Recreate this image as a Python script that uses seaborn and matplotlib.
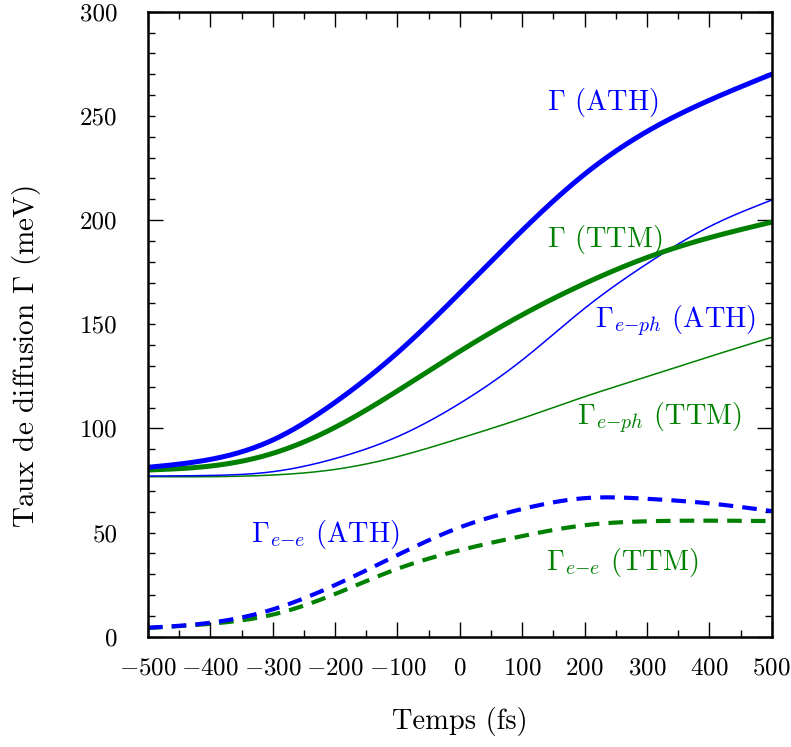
import numpy as np
import pandas as pd
import matplotlib
matplotlib.use("Agg")
import matplotlib.pyplot as plt
from matplotlib.ticker import MultipleLocator, FuncFormatter
import seaborn as sns

# ---- data ----
t = [-500, -400, -300, -200, -100, 0, 100, 200, 300, 400, 500]
gamma_ath = [81.3, 85.1, 94.4, 112.5, 136.3, 165.0, 195.0, 222.0, 242.5, 257.5, 270.0]
gamma_ttm = [80.0, 81.9, 88.0, 100.5, 118.0, 137.0, 154.5, 169.5, 182.0, 191.5, 199.0]
gamma_eph_ath = [77.1, 77.4, 79.2, 85.5, 96.0, 112.0, 132.8, 157.6, 179.0, 196.8, 209.6]
gamma_eph_ttm = [76.8, 76.8, 77.6, 80.3, 86.4, 95.2, 104.8, 115.2, 124.8, 134.4, 143.7]
gamma_ee_ath = [4.3, 6.7, 13.1, 24.8, 39.2, 52.5, 61.3, 66.5, 66.2, 64.0, 60.3]
gamma_ee_ttm = [4.2, 6.2, 10.6, 20.5, 32.6, 41.5, 48.3, 53.5, 55.4, 55.7, 55.5]

labels = [r"$\Gamma$ (ATH)", r"$\Gamma$ (TTM)",
          r"$\Gamma_{e{-}ph}$ (ATH)", r"$\Gamma_{e{-}ph}$ (TTM)",
          r"$\Gamma_{e{-}e}$ (ATH)", r"$\Gamma_{e{-}e}$ (TTM)"]

BLUE = "#0000ff"
GREEN = "#008000"

sns.set_style("ticks")
plt.rcParams["font.family"] = "serif"
plt.rcParams["font.serif"] = ["cmr10", "DejaVu Serif"]
plt.rcParams["mathtext.fontset"] = "cm"
plt.rcParams["axes.formatter.use_mathtext"] = True
plt.rcParams["text.color"] = "black"
plt.rcParams["axes.labelcolor"] = "black"

fig = plt.figure(figsize=(7.91, 7.47), dpi=100)
ax = fig.add_axes([148/791, 1-636.7/747, (771.7-148)/791, (636.7-11.7)/747])


def smooth(x, y, n=500):
    """Natural cubic spline through the read points (for a smooth line)."""
    x = np.asarray(x, float); y = np.asarray(y, float)
    k = len(x)
    h = np.diff(x)
    A = np.zeros((k, k)); r = np.zeros(k)
    A[0, 0] = A[-1, -1] = 1.0
    for i in range(1, k - 1):
        A[i, i - 1] = h[i - 1]
        A[i, i] = 2 * (h[i - 1] + h[i])
        A[i, i + 1] = h[i]
        r[i] = 6 * ((y[i + 1] - y[i]) / h[i] - (y[i] - y[i - 1]) / h[i - 1])
    M = np.linalg.solve(A, r)
    xs = np.linspace(x[0], x[-1], n)
    idx = np.clip(np.searchsorted(x, xs) - 1, 0, k - 2)
    hi = h[idx]
    a = (x[idx + 1] - xs) / hi
    b = (xs - x[idx]) / hi
    ys = (a * y[idx] + b * y[idx + 1]
          + ((a**3 - a) * M[idx] + (b**3 - b) * M[idx + 1]) * hi**2 / 6)
    return xs, ys


series = [
    (gamma_eph_ttm, GREEN, 1.1, None),
    (gamma_eph_ath, BLUE, 1.1, None),
    (gamma_ttm, GREEN, 3.6, None),
    (gamma_ath, BLUE, 3.6, None),
    (gamma_ee_ttm, GREEN, 3.0, (3.5, 2.2)),
    (gamma_ee_ath, BLUE, 3.0, (3.5, 2.2)),
]
for vals, col, lw, dash in series:
    xs, ys = smooth(t, vals)
    df = pd.DataFrame({"t": xs, "v": ys})
    sns.lineplot(data=df, x="t", y="v", ax=ax, color=col, linewidth=lw,
                 estimator=None, sort=False)
    if dash is not None:
        ax.lines[-1].set_dashes(dash)

ax.set_xlim(-500, 500)
ax.set_ylim(0, 300)

# annotations
fs = 20.5
ax.text(229, 256.6, labels[0], color=BLUE, fontsize=fs, ha="center", va="center")
ax.text(232, 190.5, labels[1], color=GREEN, fontsize=fs, ha="center", va="center")
ax.text(346, 151.5, labels[2], color=BLUE, fontsize=fs, ha="center", va="center")
ax.text(320, 105, labels[3], color=GREEN, fontsize=fs, ha="center", va="center")
ax.text(-216, 49, labels[4], color=BLUE, fontsize=fs, ha="center", va="center")
ax.text(260, 35.5, labels[5], color=GREEN, fontsize=fs, ha="center", va="center")

ax.set_xlabel("Temps (fs)", fontsize=20.5)
ax.set_ylabel(r"Taux de diffusion $\Gamma$ (meV)", fontsize=21)
ax.xaxis.set_label_coords(0.5, (636.7 - 707) / 625)
ax.yaxis.set_label_coords((43 - 148) / 623.7, (636.7 - 356.5) / 625)

ax.xaxis.set_major_locator(MultipleLocator(100))
ax.xaxis.set_minor_locator(MultipleLocator(50))
ax.yaxis.set_major_locator(MultipleLocator(100))
ax.yaxis.set_minor_locator(MultipleLocator(10))
ax.yaxis.set_major_formatter(FuncFormatter(lambda v, p: f"{int(round(v))}"))
ax.yaxis.set_minor_formatter(FuncFormatter(
    lambda v, p: f"{int(round(v))}" if int(round(v)) % 100 == 50 else ""))

ax.tick_params(which="both", direction="in", top=True, right=True, width=1.0,
               labelsize=18, colors="black")
ax.tick_params(which="major", length=10.8)
ax.tick_params(which="minor", length=5.3)
ax.tick_params(axis="x", which="both", pad=15)
ax.tick_params(axis="y", which="both", pad=22)
for sp in ax.spines.values():
    sp.set_visible(True)
    sp.set_linewidth(1.8)
    sp.set_color("black")

fig.savefig("out.png", dpi=100)
